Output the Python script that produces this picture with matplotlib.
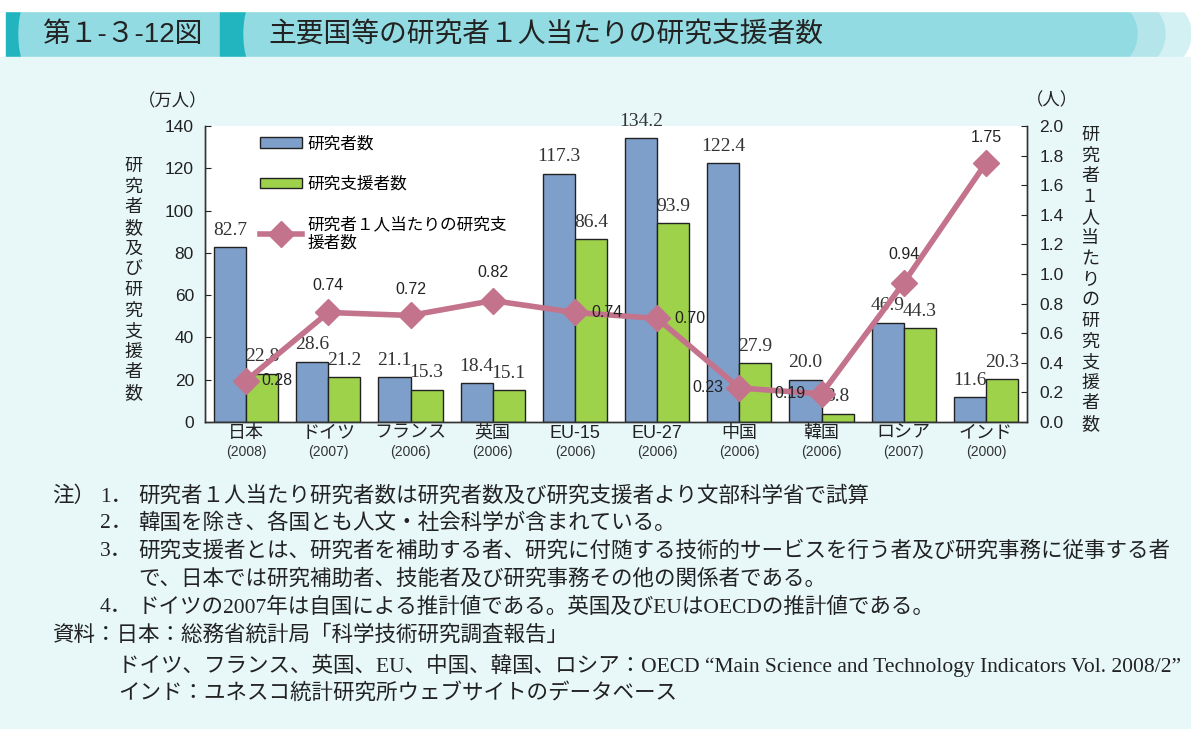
import matplotlib
matplotlib.use('Agg')
import matplotlib.pyplot as plt
from matplotlib.patches import Rectangle, Ellipse
import numpy as np

plt.rcParams['font.family'] = ['Liberation Sans', 'Noto Sans CJK JP']

# data
countries = ['日本', 'ドイツ', 'フランス', '英国', 'EU-15', 'EU-27', '中国', '韓国', 'ロシア', 'インド']
years = ['(2008)', '(2007)', '(2006)', '(2006)', '(2006)', '(2006)', '(2006)', '(2006)', '(2007)', '(2000)']
researchers = [82.7, 28.6, 21.1, 18.4, 117.3, 134.2, 122.4, 20.0, 46.9, 11.6]
supporters = [22.8, 21.2, 15.3, 15.1, 86.4, 93.9, 27.9, 3.8, 44.3, 20.3]
ratio = [0.28, 0.74, 0.72, 0.82, 0.74, 0.70, 0.23, 0.19, 0.94, 1.75]

# where each ratio label sits relative to its point (pixels)
ratio_offsets = [(31, 0), (0, 27), (0, 26), (0, 28), (32, 0),
                 (33, 0), (-31, 0), (-32, 0), (0, 28), (0, 25)]

blue = '#7f9fcb'
green = '#9ed24a'
pink = '#c3738b'
bg = '#e8f8f9'
band = '#93dbe2'
teal = '#22b5c0'

W, H = 1191, 729
fig = plt.figure(figsize=(W / 100, H / 100), dpi=100)
fig.patch.set_facecolor(bg)

# header band (pixel coords)
hdr = fig.add_axes([0, 1 - 60 / H, 1, 60 / H])
hdr.set_xlim(0, W)
hdr.set_ylim(60, 0)
hdr.axis('off')
hdr.add_patch(Rectangle((0, 0), W, 60, color='white', zorder=0))
hdr.add_patch(Ellipse((1163, 34), 56, 64, color='#d3f1f3', zorder=1))
hdr.add_patch(Ellipse((1137, 34), 56, 64, color='#b3e5ea', zorder=2))
hdr.add_patch(Rectangle((1000, 11), 160, 46, color='#d3f1f3', zorder=0.5))
hdr.add_patch(Rectangle((10, 11), 1100, 46, color=band, zorder=3))
hdr.add_patch(Ellipse((1109, 34), 56, 64, color=band, zorder=3))
hdr.add_patch(Rectangle((6, 11), 16, 46, color=teal, zorder=4))
hdr.add_patch(Ellipse((30, 34), 22, 70, color=band, zorder=5))
hdr.add_patch(Rectangle((220, 11), 28, 46, color=teal, zorder=4))
hdr.add_patch(Ellipse((256, 34), 24, 70, color=band, zorder=5))
hdr.add_patch(Rectangle((0, 57), W, 3, color=bg, zorder=6))
hdr.add_patch(Rectangle((0, 0), W, 11, color='white', zorder=6))
hdr.text(42, 35, '第１-３-12図', fontsize=20, va='center', ha='left', color='#222222', zorder=7)
hdr.text(268, 35, '主要国等の研究者１人当たりの研究支援者数', fontsize=20,
         va='center', ha='left', color='#222222', zorder=7)

# main chart
ax = fig.add_axes([205 / W, 1 - 422 / H, 822 / W, 296 / H])
ax.set_facecolor('white')
ax2 = ax.twinx()

x = np.arange(len(countries))
w = 0.39
b1 = ax.bar(x - w / 2, researchers, w, color=blue, edgecolor='#222222', linewidth=1, label='研究者数')
b2 = ax.bar(x + w / 2, supporters, w, color=green, edgecolor='#222222', linewidth=1, label='研究支援者数')

for bars, vals in [(b1, researchers), (b2, supporters)]:
    for r, v in zip(bars, vals):
        ax.annotate(f'{v:.1f}', (r.get_x() + r.get_width() / 2, v),
                    xytext=(0, 17), textcoords='offset pixels', ha='center', va='center',
                    family='Liberation Serif', fontsize=14, color='#333333')

ln, = ax2.plot(x, ratio, color=pink, lw=4, marker='D', markersize=13,
               label='研究者１人当たりの研究支\n援者数')
for xi, v, off in zip(x, ratio, ratio_offsets):
    ax2.annotate(f'{v:.2f}', (xi, v), xytext=off, textcoords='offset pixels',
                 ha='center', va='center', fontsize=11.5, color='#222222')

ax.set_xlim(-0.5, len(countries) - 0.5)
ax.set_ylim(0, 140)
ax2.set_ylim(0, 2.0)
ax.set_yticks(np.arange(0, 141, 20))
ax2.set_yticks(np.arange(0, 2.01, 0.2))
ax2.set_yticklabels([f'{t:.1f}' for t in np.arange(0, 2.01, 0.2)])
ax.set_xticks(x)
ax.set_xticklabels([])
ax.tick_params(axis='x', length=0)
ax.tick_params(axis='y', direction='in', length=4, labelsize=12.5, pad=8, colors='#222222')
ax2.tick_params(axis='y', direction='in', length=4, labelsize=12.5, pad=9, colors='#222222')
for a in (ax, ax2):
    a.spines['top'].set_visible(False)
    for s in ('left', 'right', 'bottom'):
        a.spines[s].set_color('#333333')
        a.spines[s].set_linewidth(1)

trans = ax.get_xaxis_transform()
for xi, c, yr in zip(x, countries, years):
    ax.text(xi, -0.038, c, transform=trans, ha='center', va='center', fontsize=13, color='#222222')
    ax.text(xi, -0.102, yr, transform=trans, ha='center', va='center', fontsize=10, color='#333333')

leg = ax2.legend([b1, b2, ln], [b1.get_label(), b2.get_label(), ln.get_label()],
                 loc='upper left', bbox_to_anchor=(0.055, 1.0), frameon=False,
                 fontsize=12, handlelength=2.5, handleheight=0.6, labelspacing=1.5,
                 handletextpad=0.35, borderaxespad=0.2)

# axis titles
fig.text(173 / W, 1 - 101 / H, '（万人）', ha='center', va='center', fontsize=12.5, color='#222222')
fig.text(1052 / W, 1 - 100 / H, '（人）', ha='center', va='center', fontsize=12.5, color='#222222')
fig.text(133 / W, 1 - 280 / H, '\n'.join('研究者数及び研究支援者数'), ha='center', va='center',
         fontsize=13, linespacing=1.28, color='#222222')
fig.text(1090 / W, 1 - 280 / H, '\n'.join('研究者１人当たりの研究支援者数'), ha='center', va='center',
         fontsize=13, linespacing=1.28, color='#222222')

# notes
nf = ['Liberation Serif', 'Noto Sans CJK JP']
notes = [
    (52, 497, '注）'),
    (100, 497, '1．'), (138, 497, '研究者１人当たり研究者数は研究者数及び研究支援者より文部科学省で試算'),
    (100, 524, '2．'), (138, 524, '韓国を除き、各国とも人文・社会科学が含まれている。'),
    (100, 552, '3．'), (138, 552, '研究支援者とは、研究者を補助する者、研究に付随する技術的サービスを行う者及び研究事務に従事する者'),
    (138, 580, 'で、日本では研究補助者、技能者及び研究事務その他の関係者である。'),
    (100, 608, '4．'), (138, 608, 'ドイツの2007年は自国による推計値である。英国及びEUはOECDの推計値である。'),
    (52, 636, '資料：日本：総務省統計局「科学技術研究調査報告」'),
    (118, 665, 'ドイツ、フランス、英国、EU、中国、韓国、ロシア：OECD “Main Science and Technology Indicators Vol. 2008/2”'),
    (118, 693, 'インド：ユネスコ統計研究所ウェブサイトのデータベース'),
]
for nx, ny, t in notes:
    fig.text(nx / W, 1 - ny / H, t, ha='left', va='center', fontsize=15.5, family=nf, color='#222222')

fig.savefig('out.png', dpi=100, facecolor=fig.get_facecolor())
